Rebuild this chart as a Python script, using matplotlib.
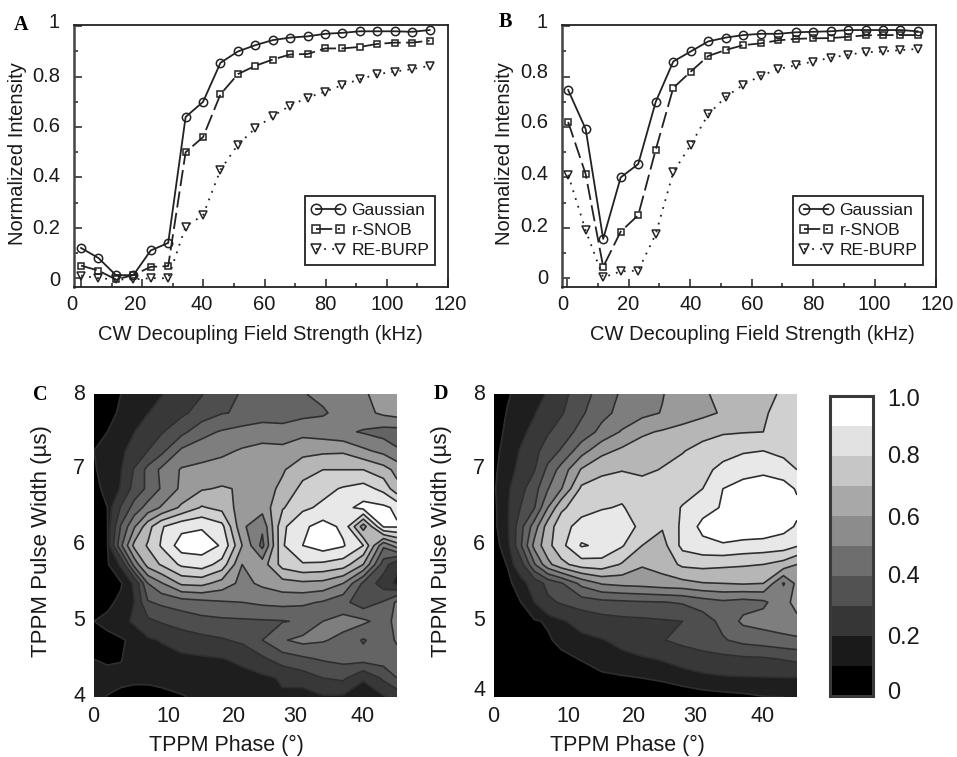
import numpy as np
import matplotlib
matplotlib.use('Agg')
import matplotlib.pyplot as plt
from matplotlib.cm import ScalarMappable
from matplotlib.colors import BoundaryNorm, ListedColormap

plt.rcParams['font.family'] = ['Liberation Sans', 'DejaVu Sans']

W, H = 957, 757

# Panel A and B curves
field_a = [0, 5.7, 11.4, 17.1, 22.8, 28.5, 34.2, 39.9, 45.6, 51.3, 57, 62.7, 68.4, 74.1, 79.8, 85.5, 91.2, 96.9, 102.6, 108.3, 114]
gauss_a = [.12, .08, .012, .012, .11, .14, .64, .70, .855, .90, .925, .945, .955, .96, .97, .974, .98, .98, .98, .978, .985]
snob_a = [.05, .03, -.005, .012, .045, .048, .50, .56, .73, .81, .843, .868, .888, .89, .912, .912, .918, .93, .935, .935, .943]
burp_a = [.01, 0, -.005, -.005, 0, 0, .205, .25, .43, .53, .595, .643, .685, .717, .74, .767, .79, .81, .82, .83, .843]

field_b = [.3, 6, 11.7, 17.4, 23.1, 28.8, 34.5, 40.2, 45.9, 51.6, 57.3, 62.9, 68.6, 74.3, 80, 85.7, 91.4, 97.1, 102.7, 108.4, 114]
gauss_b = [.747, .592, .156, .40, .453, .70, .86, .90, .94, .955, .965, .97, .97, .976, .978, .98, .985, .985, .985, .985, .98]
snob_b = [.62, .413, .045, .185, .25, .51, .755, .82, .882, .906, .925, .932, .944, .95, .952, .953, .958, .964, .965, .965, .965]
burp_b = [.41, .19, .003, .027, .03, .175, .42, .53, .65, .72, .768, .803, .83, .845, .86, .875, .887, .897, .90, .905, .91]

# Contour grids, rows run from the 8 us edge down to 4 us
phase = [0, 2, 4, 6, 8, 10, 13, 16, 19, 22, 25, 28, 31, 34, 37, 40, 43, 45]
width = [8, 7.75, 7.5, 7.25, 7, 6.75, 6.5, 6.25, 6, 5.75, 5.5, 5.25, 5, 4.75, 4.5, 4.25, 4]

grid_c = [
    [.02, .035, .05, .065, .08, .095, .14, .195, .26, .31, .34, .365, .395, .42, .46, .49, .53, .55],
    [.03, .04, .055, .08, .098, .13, .18, .24, .295, .31, .33, .35, .37, .39, .43, .47, .52, .54],
    [.04, .05, .075, .098, .15, .19, .27, .37, .41, .44, .47, .44, .47, .45, .42, .39, .36, .36],
    [.05, .06, .085, .13, .2, .27, .42, .45, .48, .51, .52, .53, .57, .58, .585, .52, .47, .41],
    [.045, .07, .095, .21, .33, .42, .51, .53, .54, .55, .56, .59, .66, .7, .7, .7, .64, .57],
    [.04, .06, .105, .24, .32, .41, .52, .59, .61, .59, .56, .62, .73, .77, .81, .84, .77, .63],
    [.045, .05, .21, .34, .44, .51, .62, .71, .67, .55, .54, .69, .78, .82, .87, .93, .92, .88],
    [.045, .048, .31, .49, .66, .79, .87, .89, .83, .52, .42, .78, .88, .94, .88, .55, .91, .91],
    [.045, .048, .38, .63, .71, .81, .95, .95, .89, .6, .37, .79, .9, .95, .91, .8, .42, .55],
    [.04, .045, .11, .44, .64, .71, .82, .85, .76, .5, .55, .74, .79, .78, .75, .6, .25, .12],
    [.03, .035, .045, .11, .4, .49, .62, .63, .56, .47, .52, .56, .58, .57, .5, .28, .15, .08],
    [.03, .04, .06, .1, .29, .32, .35, .37, .39, .4, .42, .43, .42, .39, .33, .24, .31, .42],
    [.05, .06, .08, .11, .18, .21, .24, .27, .28, .285, .29, .295, .31, .4, .44, .42, .36, .43],
    [.045, .04, .045, .06, .085, .105, .15, .17, .19, .22, .3, .39, .43, .41, .37, .29, .36, .41],
    [.05, .043, .048, .07, .07, .072, .075, .085, .095, .12, .18, .25, .28, .31, .33, .34, .35, .37],
    [.06, .065, .06, .058, .058, .06, .062, .065, .068, .07, .08, .11, .15, .2, .22, .11, .22, .3],
    [.07, .048, .04, .035, .035, .04, .048, .055, .06, .06, .065, .09, .05, .09, .085, .05, .09, .13],
]

grid_d = [
    [.02, .045, .065, .08, .105, .165, .26, .34, .415, .45, .495, .55, .59, .62, .65, .68, .71, .72],
    [.025, .053, .075, .095, .14, .19, .285, .37, .43, .47, .505, .54, .575, .61, .65, .69, .73, .74],
    [.03, .06, .085, .12, .19, .245, .335, .43, .51, .585, .61, .64, .67, .69, .695, .7, .74, .76],
    [.035, .07, .105, .17, .25, .31, .46, .57, .62, .645, .67, .695, .73, .76, .79, .8, .77, .75],
    [.04, .08, .115, .195, .325, .44, .61, .68, .695, .68, .705, .73, .77, .83, .86, .88, .85, .8],
    [.045, .085, .17, .26, .395, .495, .72, .74, .76, .74, .72, .74, .8, .9, .94, .95, .94, .89],
    [.04, .09, .205, .295, .5, .68, .76, .79, .81, .74, .72, .81, .86, .91, .96, .97, .95, .92],
    [.04, .085, .27, .45, .65, .76, .84, .88, .86, .77, .71, .82, .93, .96, .97, .97, .93, .89],
    [.035, .07, .29, .53, .67, .77, .91, .88, .81, .7, .66, .83, .87, .89, .87, .86, .85, .81],
    [.03, .052, .16, .39, .57, .67, .75, .76, .69, .61, .64, .72, .73, .72, .71, .7, .66, .6],
    [.03, .04, .07, .14, .23, .29, .43, .51, .53, .54, .56, .57, .595, .6, .61, .6, .39, .53],
    [.025, .03, .05, .1, .18, .21, .25, .27, .28, .29, .295, .31, .35, .38, .36, .38, .47, .53],
    [.02, .03, .04, .045, .055, .09, .13, .16, .175, .18, .19, .2, .25, .33, .42, .44, .46, .48],
    [.02, .025, .045, .04, .045, .06, .08, .095, .12, .16, .195, .23, .26, .29, .33, .35, .37, .38],
    [.015, .02, .03, .03, .035, .04, .052, .07, .08, .09, .105, .13, .155, .17, .18, .185, .205, .22],
    [.015, .015, .02, .02, .025, .025, .03, .04, .045, .05, .055, .065, .08, .09, .093, .095, .097, .098],
    [.01, .01, .012, .012, .015, .015, .018, .02, .022, .025, .028, .03, .032, .035, .04, .048, .05, .055],
]

contour_levels = [0, .05, .1, .2, .3, .4, .5, .6, .7, .8, .9, 1]
contour_grays = ['#000000', '#1e1e1e', '#383838', '#4e4e4e', '#646464', '#7e7e7e', '#9a9a9a', '#b6b6b6', '#d0d0d0', '#e8e8e8', '#ffffff']

bar_levels = [0, .1, .2, .3, .4, .5, .6, .7, .8, .9, 1]
bar_grays = ['#000000', '#1a1a1a', '#363636', '#525252', '#6e6e6e', '#8c8c8c', '#a8a8a8', '#c6c6c6', '#e2e2e2', '#ffffff']
bar_labels = ['0', '0.2', '0.4', '0.6', '0.8', '1.0']

x_ticks = ['0', '20', '40', '60', '80', '100', '120']
y_ticks = ['0', '0.2', '0.4', '0.6', '0.8', '1']
phase_ticks = ['0', '10', '20', '30', '40']
width_ticks = ['4', '5', '6', '7', '8']


def box(l, t, r, b):
    return [l / W, 1 - b / H, (r - l) / W, (b - t) / H]


def label(x, y, s, **kw):
    # every label sits at a pixel position
    kw.setdefault('fontsize', 14.5)
    kw.setdefault('color', '#1a1a1a')
    kw.setdefault('ha', 'center')
    kw.setdefault('va', 'center')
    fig.text(x / W, 1 - y / H, s, **kw)


def curves(pos, x, gauss, snob, burp, xlim, legend_center):
    ax = fig.add_axes(pos)
    ax.plot(x, gauss, '-', color='#222222', lw=1.3, marker='o', ms=6, mfc='none', mew=1.1, label='Gaussian')
    ax.plot(x, snob, color='#222222', lw=1.3, dashes=(9, 3), marker='s', ms=5, mfc='none', mew=1.1, label='r-SNOB')
    ax.plot(x, burp, color='#222222', lw=1.3, dashes=(1, 3.5), marker='v', ms=5.5, mfc='none', mew=1.1, label='RE-BURP')
    ax.set_xlim(xlim)
    ax.set_ylim(-.035, 1.005)
    ax.set_xticks(np.arange(0, 121, 20))
    ax.set_xticks(np.arange(0, 120, 10), minor=True)
    ax.set_yticks(np.arange(0, 1.01, .2))
    ax.set_yticks(np.arange(.1, 1, .2), minor=True)
    ax.tick_params(which='major', direction='in', length=6, width=1.1, labelbottom=False, labelleft=False, color='#222222')
    ax.tick_params(which='minor', direction='in', length=3, width=1.1, color='#222222')
    for side in ax.spines.values():
        side.set_linewidth(1.3)
        side.set_color('#222222')
    ax.spines['left'].set_linewidth(1.8)
    ax.spines['left'].set_color('#444444')
    leg = ax.legend(loc='center', bbox_to_anchor=legend_center, bbox_transform=fig.transFigure, fontsize=12.5,
                    numpoints=2, handlelength=2.0, markerscale=1.25, labelspacing=.3, handletextpad=.35, borderpad=.35,
                    borderaxespad=0, fancybox=False, framealpha=1, edgecolor='#222222')
    leg.get_frame().set_linewidth(1.3)
    for t in leg.get_texts():
        t.set_color('#1a1a1a')
    return ax


def contours(pos, grid):
    ax = fig.add_axes(pos)
    ax.contourf(phase, width, grid, levels=contour_levels, colors=contour_grays)
    ax.contour(phase, width, grid, levels=contour_levels[1:-1], colors='#2e2e2e', linewidths=1.2)
    ax.set_xlim(0, 45)
    ax.set_ylim(4, 8)
    ax.axis('off')
    return ax


fig = plt.figure(figsize=(W / 100, H / 100), dpi=100)

curves(box(74, 25, 448, 287), field_a, gauss_a, snob_a, burp_a, (-2.3, 120), (370 / W, 1 - 230.5 / H))
curves(box(562, 25, 936, 287), field_b, gauss_b, snob_b, burp_b, (-1.7, 120), (858 / W, 1 - 230.5 / H))
contours(box(94, 394, 397, 697), grid_c)
contours(box(494, 394, 797, 697), grid_d)

# Grey scale bar
cax = fig.add_axes(box(830, 396, 873, 696))
bar_cmap = ListedColormap(bar_grays)
cb = fig.colorbar(ScalarMappable(norm=BoundaryNorm(bar_levels, bar_cmap.N), cmap=bar_cmap), cax=cax)
cb.set_ticks([])
cb.minorticks_off()
cb.outline.set_linewidth(2.2)
cb.outline.set_edgecolor('#3a3a3a')

# Tick labels of the curve panels
for s, x in zip(x_ticks, [72, 135, 202, 264, 325, 387, 450]):
    label(x, 305, s)
for s, x in zip(x_ticks, [563, 628, 691, 752, 813, 874, 937]):
    label(x, 305, s)
for s, y in zip(y_ticks, [281, 228, 177, 127, 76, 23]):
    label(60, y, s, ha='right')
for s, y in zip(y_ticks, [278, 227, 175, 123, 73, 22]):
    label(548, y, s, ha='right')

# Tick labels of the contour panels
for s, x in zip(phase_ticks, [93, 168, 234, 295, 363]):
    label(x, 717, s, fontsize=15.5)
for s, x in zip(phase_ticks, [493, 568, 634, 695, 763]):
    label(x, 717, s, fontsize=15.5)
for s, y in zip(width_ticks, [697, 621, 545, 469, 394]):
    label(79, y, s, fontsize=15.5)
for s, y in zip(width_ticks, [690, 621, 545, 469, 394]):
    label(479, y, s, fontsize=15.5)

# Scale bar labels
for s, y in zip(bar_labels, [693, 638, 577, 519, 457, 400]):
    label(887, y, s, ha='left', fontsize=17)

# Axis titles
label(260, 334, 'CW Decoupling Field Strength (kHz)')
label(752, 334, 'CW Decoupling Field Strength (kHz)')
label(18, 154, 'Normalized Intensity', rotation=90)
label(505, 154, 'Normalized Intensity', rotation=90)
label(226, 745, 'TPPM Phase (°)', fontsize=15.5)
label(627, 745, 'TPPM Phase (°)', fontsize=15.5)
label(42, 541, 'TPPM Pulse Width (µs)', rotation=90, fontsize=16)
label(442, 541, 'TPPM Pulse Width (µs)', rotation=90, fontsize=16)

# Panel letters
for s, x, y in [('A', 21, 25), ('B', 505, 22), ('C', 40, 395), ('D', 441, 394)]:
    label(x, y, s, family='Liberation Serif', weight='bold', fontsize=14.5, color='black')

fig.savefig('out.png', dpi=100)
